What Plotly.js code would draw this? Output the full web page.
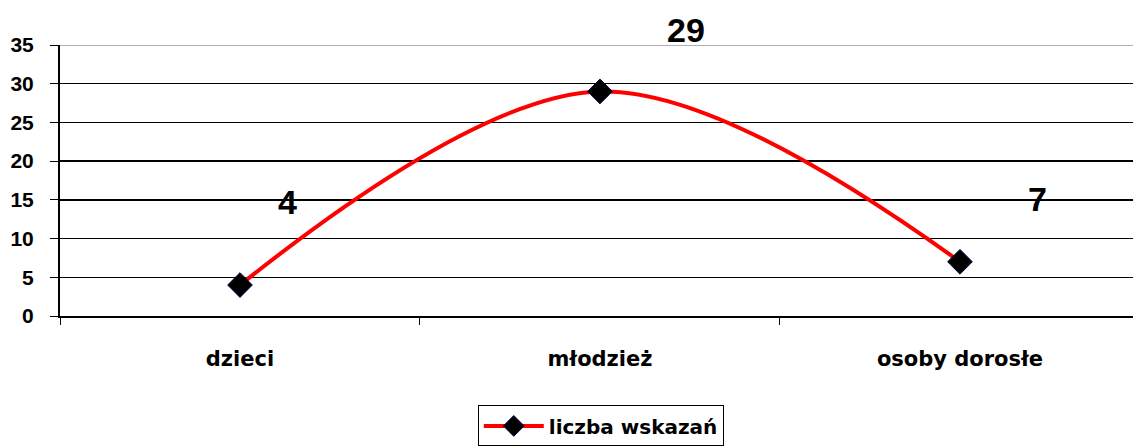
<!DOCTYPE html>
<html><head><meta charset="utf-8">
<script src="https://cdn.plot.ly/plotly-3.0.1.min.js"></script>
<style>html,body{margin:0;padding:0;background:#fff;}#chart{width:1133px;height:447px;}</style>
</head><body><div id="chart"></div>
<script>
const categories = ["dzieci", "młodzież", "osoby dorosłe"];
const values = [4, 29, 7];
const labelShiftX = [47, 86, 78];
const labelShiftY = [83, 61, 63];
const seriesName = "liczba wskazań";
const yTicks = [0, 5, 10, 15, 20, 25, 30, 35];

const fontL = "Liberation Sans, Arial, sans-serif";
const fontD = "DejaVu Sans, Verdana, sans-serif";
const trace = {
  x: categories, y: values, type: "scatter", mode: "lines+markers", name: "<b>" + seriesName + "</b>",
  line: {color: "#ff0000", width: 4, shape: "spline", smoothing: 1},
  marker: {symbol: "diamond", size: 19, color: "#000000", line: {color: "#000040", width: 1}}
};
const annotations = categories.map((c, i) => ({
  x: c, y: values[i], xref: "x", yref: "y", text: "<b>" + values[i] + "</b>",
  showarrow: false, xshift: labelShiftX[i], yshift: labelShiftY[i],
  font: {family: fontL, size: 34, color: "#000"}
}));
const layout = {
  width: 1133, height: 447,
  margin: {l: 60, r: 0, t: 45, b: 131},
  paper_bgcolor: "#fff", plot_bgcolor: "#fff",
  showlegend: true,
  legend: {orientation: "h", x: 0.504, xanchor: "center", y: -0.33, yanchor: "top", itemwidth: 60,
    bordercolor: "#000", borderwidth: 1, font: {family: fontD, size: 20, color: "#000"}},
  xaxis: {type: "category", range: [-0.5, 2.4806], tickson: "boundaries", ticks: "outside",
    tickvals: categories, ticktext: categories.map(c => "<b>" + c + "</b>"),
    ticklen: 7, tickcolor: "#000", tickwidth: 1, showline: true, linecolor: "#000", linewidth: 2,
    showgrid: false, zeroline: false, fixedrange: true,
    tickfont: {family: fontD, size: 21, color: "#000"}, ticklabelstandoff: 23},
  yaxis: {range: [0, 35], tickvals: yTicks, ticktext: yTicks.map(v => "<b>" + v + "</b>"),
    ticks: "outside", ticklen: 8, tickcolor: "#000", tickwidth: 1,
    showline: true, linecolor: "#000", linewidth: 2, showgrid: true, gridcolor: "#000", gridwidth: 1.5,
    zeroline: false, tickfont: {family: fontL, size: 21, color: "#000"}, ticklabelstandoff: 12},
  shapes: [{type: "line", xref: "paper", yref: "y", x0: 0, x1: 1,
    y0: yTicks[yTicks.length - 1], y1: yTicks[yTicks.length - 1],
    line: {color: "#b0b0b0", width: 2}, layer: "above"}],
  annotations: annotations
};
Plotly.newPlot("chart", [trace], layout, {displayModeBar: false, staticPlot: true});
</script></body></html>
